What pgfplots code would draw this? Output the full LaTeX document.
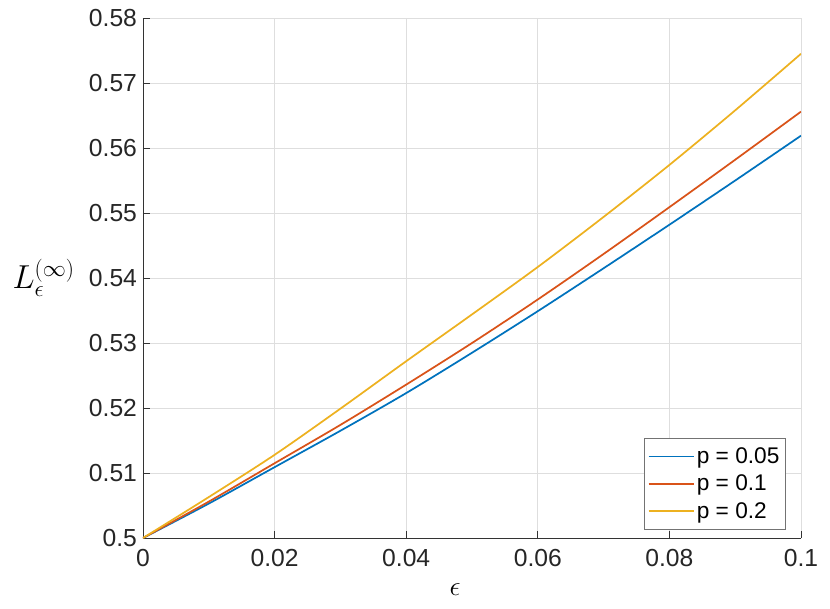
\documentclass[border=0pt]{standalone}
\usepackage{pgfplots}
\pgfplotsset{compat=1.18}
\usepackage{fontspec}
\setmainfont{Liberation Sans}
\definecolor{mblue}{rgb}{0,0.447,0.741}
\definecolor{mred}{rgb}{0.85,0.325,0.098}
\definecolor{myellow}{rgb}{0.929,0.694,0.125}
\begin{document}
\begin{tikzpicture}
\useasboundingbox (-107.25pt,-52.5pt) rectangle (515.25pt,403.5pt);
\begin{axis}[
  at={(0,0)}, anchor=south west,
  scale only axis, width=493.5pt, height=390pt,
  xmin=0, xmax=0.1, ymin=0.5, ymax=0.58,
  xtick={0,0.02,0.04,0.06,0.08,0.1},
  xticklabels={0,0.02,0.04,0.06,0.08,0.1},
  ytick={0.5,0.51,0.52,0.53,0.54,0.55,0.56,0.57,0.58},
  yticklabels={0.5,0.51,0.52,0.53,0.54,0.55,0.56,0.57,0.58},
  axis x line*=bottom, axis y line*=left,
  axis line style={-, color=black!80, line width=0.6pt},
  tick align=inside, major tick length=5pt,
  tick style={color=black!80, line width=0.6pt},
  grid=major, grid style={color=black!13, line width=0.6pt},
  /pgf/number format/assume math mode=true,
  ticklabel style={font=\fontsize{18.5}{20}\selectfont, color=black!85},
  xticklabel style={yshift=-5pt},
  yticklabel style={xshift=-1pt},
  xlabel={$\epsilon$},
  ylabel={$L_{\epsilon}^{(\infty)}$},
  xlabel style={at={(axis description cs:0.5,0)}, anchor=center, yshift=-39pt, xshift=-12.75pt, font=\fontsize{21}{24}\selectfont},
  ylabel style={at={(axis description cs:0,0.5)}, anchor=east, rotate=-90, xshift=-51pt, inner sep=0pt, font=\fontsize{24}{28}\selectfont},
  legend cell align=left,
  legend style={at={(1,0)}, anchor=south east, xshift=-11.5pt, yshift=6.5pt,
    draw=black!55, fill=white,
    font=\fontsize{17}{20}\selectfont, inner xsep=3pt, inner ysep=3pt,
    nodes={fill=none, inner xsep=1.5pt, inner ysep=1.5pt, minimum height=20.6pt}},
  legend image code/.code={\draw[#1, line width=1.3pt] (0pt,0pt) -- (34pt,0pt);},
]
\addplot[color=mblue, line width=1.3pt, smooth] coordinates {
 (0,0.5) (0.01,0.5053) (0.02,0.5109) (0.03,0.5165) (0.04,0.5223) (0.05,0.5285)
 (0.06,0.5349) (0.07,0.5415) (0.08,0.5482) (0.09,0.5550) (0.1,0.5619)};
\addlegendentry{p = 0.05}
\addplot[color=mred, line width=1.3pt, smooth] coordinates {
 (0,0.5) (0.01,0.5056) (0.02,0.5115) (0.03,0.5174) (0.04,0.5236) (0.05,0.5300)
 (0.06,0.5367) (0.07,0.5437) (0.08,0.5509) (0.09,0.5582) (0.1,0.5656)};
\addlegendentry{p = 0.1}
\addplot[color=myellow, line width=1.3pt, smooth] coordinates {
 (0,0.5) (0.01,0.5063) (0.02,0.5128) (0.03,0.5199) (0.04,0.5272) (0.05,0.5344)
 (0.06,0.5417) (0.07,0.5494) (0.08,0.5574) (0.09,0.5658) (0.1,0.5745)};
\addlegendentry{p = 0.2}
\end{axis}
\end{tikzpicture}
\end{document}
